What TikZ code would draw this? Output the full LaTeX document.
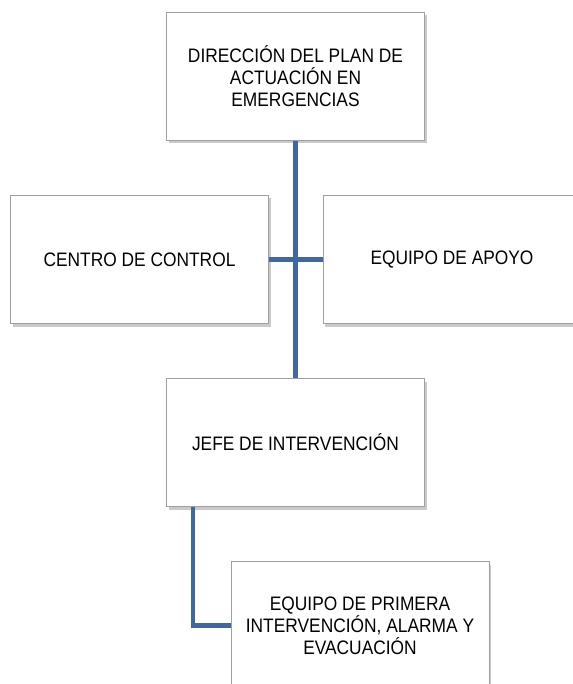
\documentclass[tikz,border=0pt]{standalone}
\usepackage{fontspec}
\setmainfont{Liberation Sans}[FakeStretch=0.89]
\usetikzlibrary{calc,shadows}
\definecolor{linkblue}{RGB}{64,102,164}
\definecolor{boxgray}{RGB}{160,160,160}
\tikzset{
	orgbox/.style={draw=boxgray, line width=0.8pt, fill=white, minimum width=258pt, minimum height=128pt,
		align=center, inner sep=2pt, font=\fontsize{19.5}{22}\selectfont,
		drop shadow={shadow xshift=2pt, shadow yshift=-3pt, opacity=0.35, fill=black!60}},
	orglink/.style={draw=linkblue, line width=4.5pt}
}

\begin{document}
\begin{tikzpicture}[x=1pt, y=-1pt]
		%%%%% START %%%%%
		\useasboundingbox (0, 0) rectangle (572, 684);
		
		\node[orgbox] (direccion) at (295.5, 76.5) {DIRECCIÓN DEL PLAN DE\\ACTUACIÓN EN\\EMERGENCIAS};
		
		\node[orgbox] (control) at (139.5, 259.5) {CENTRO DE CONTROL};
		\node[orgbox] (apoyo) at (452, 259.5) {EQUIPO DE APOYO};
		
		\node[orgbox] (jefe) at (295.5, 442.5) {JEFE DE INTERVENCIÓN};
		
		\node[orgbox] (primera) at (360, 625.5) {EQUIPO DE PRIMERA\\INTERVENCIÓN, ALARMA Y\\EVACUACIÓN};
		
		\draw[orglink] (direccion.south) -- (jefe.north);
		\draw[orglink] (control.east) -- (apoyo.west);
		
		\coordinate (jefeout) at ($(jefe.south west)+(27, 0)$);
		\draw[orglink] (jefeout) |- (primera.west);
		
		%%%%% END %%%%%
	\end{tikzpicture}
\end{document}
